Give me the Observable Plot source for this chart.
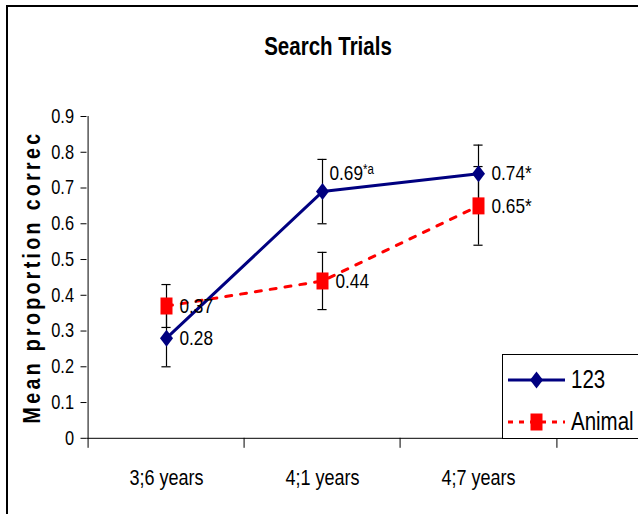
<!DOCTYPE html>
<html>
<head>
<meta charset="utf-8">
<script src="https://cdn.jsdelivr.net/npm/d3@7"></script>
<script src="https://cdn.jsdelivr.net/npm/@observablehq/plot@0.6"></script>
<style>
  html, body { margin: 0; padding: 0; background: #fff; }
  #wrap { position: relative; width: 638px; height: 514px; overflow: hidden; background: #fff; }
  #frame { position: absolute; left: 6px; top: 5px; width: 700px; height: 600px;
           border-left: 2px solid #000; border-top: 2px solid #000; }
  #chart { position: absolute; left: 0; top: 0; }
  #legend { position: absolute; left: 0; top: 0; }
</style>
</head>
<body>
<div id="wrap">
  <div id="frame"></div>
  <div id="chart"></div>
  <svg id="legend" width="638" height="514"></svg>
</div>
<script>
// ---------- data ----------
const categories = ["3;6 years", "4;1 years", "4;7 years"];
const seriesNames = ["123", "Animal"];
const values123 = [0.28, 0.69, 0.74];
const errors123 = [0.08, 0.09, 0.08];
const labels123 = ["0.28", "0.69*a", "0.74*"];
const valuesAnimal = [0.37, 0.44, 0.65];
const errorsAnimal = [0.06, 0.08, 0.11];
const labelsAnimal = ["0.37", "0.44", "0.65*"];
const yTicks = [0, 0.1, 0.2, 0.3, 0.4, 0.5, 0.6, 0.7, 0.8, 0.9];
const yTickLabels = ["0", "0.1", "0.2", "0.3", "0.4", "0.5", "0.6", "0.7", "0.8", "0.9"];
const chartTitle = "Search Trials";
const yTitle = "Mean proportion correc";

// ---------- styling ----------
const FONT = '"Liberation Sans",Arial,sans-serif';
const SX = 0.82; // horizontal condensing (narrow face)
const NAVY = "#000080", RED = "#ff0000";
const W = 638, H = 514;
const mL = 86.5, mR = 81, mT = 116, mB = 76.2;
const step = (W - mL - mR) / categories.length;
const capW = 10;

const diamondSym = { draw(ctx) { ctx.moveTo(0, -8.5); ctx.lineTo(6.5, 0); ctx.lineTo(0, 8.5); ctx.lineTo(-6.5, 0); ctx.closePath(); } };
const squareSym = { draw(ctx) { ctx.rect(-6, -8.5, 12, 17); } };

const rows123 = categories.map((c, i) => ({cat: c, v: values123[i], e: errors123[i], label: labels123[i]}));
const rowsAnimal = categories.map((c, i) => ({cat: c, v: valuesAnimal[i], e: errorsAnimal[i], label: labelsAnimal[i]}));
const allRows = rows123.concat(rowsAnimal);
const supRows = allRows.filter(d => d.label.endsWith("a"));
const plainRows = allRows.filter(d => !d.label.endsWith("a"));

const yMax = yTicks[yTicks.length - 1];

const chart = Plot.plot({
  width: W, height: H,
  marginLeft: mL, marginRight: mR, marginTop: mT, marginBottom: mB,
  x: {type: "band", domain: categories, padding: 0, axis: null},
  y: {domain: [0, yMax], axis: null},
  style: {background: "transparent", fontFamily: FONT, color: "#000", overflow: "visible"},
  marks: [
    Plot.axisY({ticks: yTicks, tickFormat: d => yTickLabels[yTicks.indexOf(d)], tickSize: 6, tickPadding: 7, fontSize: 20, label: null, stroke: "#000"}),
    Plot.axisX({tickSize: 0, tickPadding: 30.6, fontSize: 22, label: null}),
    Plot.ruleY([0], {stroke: "#000"}),
    Plot.ruleX([categories[0]], {x: d => d, y1: yMax, y2: 0, dx: -step / 2, insetBottom: -10, stroke: "#000"}),
    Plot.ruleX(categories.slice(1), {x: d => d, y1: 0, y2: 0, dx: -step / 2, insetBottom: -10, stroke: "#000"}),
    Plot.ruleX([categories[categories.length - 1]], {x: d => d, y1: 0, y2: 0, dx: step / 2, insetBottom: -10, stroke: "#000"}),
    Plot.ruleX(allRows, {x: "cat", y1: d => d.v - d.e, y2: d => d.v + d.e, stroke: "#000", strokeWidth: 1.2}),
    Plot.tickY(allRows, {x: "cat", y: d => d.v - d.e, insetLeft: (step - capW) / 2, insetRight: (step - capW) / 2, stroke: "#000", strokeWidth: 1.2}),
    Plot.tickY(allRows, {x: "cat", y: d => d.v + d.e, insetLeft: (step - capW) / 2, insetRight: (step - capW) / 2, stroke: "#000", strokeWidth: 1.2}),
    Plot.line(rowsAnimal, {x: "cat", y: "v", stroke: RED, strokeWidth: 3, strokeDasharray: "6,9"}),
    Plot.line(rows123, {x: "cat", y: "v", stroke: NAVY, strokeWidth: 3}),
    Plot.dot(rowsAnimal, {x: "cat", y: "v", symbol: squareSym, fill: RED, stroke: "none"}),
    Plot.dot(rows123, {x: "cat", y: "v", symbol: diamondSym, fill: NAVY, stroke: "none"}),
    Plot.text(plainRows, {x: "cat", y: "v", text: "label", textAnchor: "start", dx: 13, fontSize: 21, fill: "#000"}),
    Plot.text(supRows, {x: "cat", y: "v", text: "label", textAnchor: "start", dx: 7, dy: -18, fontSize: 21, fill: "#000"})
  ]
});
document.getElementById("chart").appendChild(chart);

const svg = d3.select(chart);
svg.selectAll("text").each(function() {
  const t = d3.select(this);
  const s = t.text();
  if (s.endsWith("*a")) {
    t.text(s.slice(0, -2));
    t.append("tspan").attr("font-size", 14).attr("dy", "-0.45em").text("*a");
  }
});

function condense(root) {
  root.selectAll("text").each(function() {
    const x = parseFloat(this.getAttribute("x")) || 0;
    const t = this.getAttribute("transform") || "";
    this.setAttribute("transform", `${t} translate(${x},0) scale(${SX},1) translate(${-x},0)`);
  });
}
condense(svg);

// title
svg.append("text").attr("x", 328).attr("y", 55.5).attr("text-anchor", "middle")
  .attr("transform", `translate(328,0) scale(${SX},1) translate(-328,0)`)
  .attr("font-family", FONT).attr("font-weight", "bold").attr("font-size", 25).attr("fill", "#000").text(chartTitle);
// y axis title
svg.append("text").attr("transform", `translate(40,277) rotate(-90) scale(${SX},1)`).attr("text-anchor", "middle")
  .attr("font-family", FONT).attr("font-weight", "bold").attr("font-size", 24).attr("letter-spacing", "4px")
  .attr("fill", "#000").text(yTitle);

// legend
const lg = d3.select("#legend");
lg.append("rect").attr("x", 502.5).attr("y", 354.5).attr("width", 200).attr("height", 84).attr("fill", "#fff").attr("stroke", "#000").attr("stroke-width", 1);
const legendItems = [
  {name: seriesNames[0], color: NAVY, dash: null, sym: diamondSym, y: 380},
  {name: seriesNames[1], color: RED, dash: "5,6", sym: squareSym, y: 422}
];
legendItems.forEach(it => {
  lg.append("line").attr("x1", 508).attr("x2", 565).attr("y1", it.y).attr("y2", it.y)
    .attr("stroke", it.color).attr("stroke-width", 3).attr("stroke-dasharray", it.dash);
  lg.append("path").attr("transform", `translate(536.5,${it.y})`).attr("fill", it.color)
    .attr("d", (() => { const p = d3.path(); it.sym.draw(p); return p.toString(); })());
  lg.append("text").attr("x", 571).attr("y", it.y + 8.5).attr("font-family", FONT).attr("font-size", 25)
    .attr("fill", "#000").text(it.name);
});
condense(lg);
</script>
</body>
</html>
